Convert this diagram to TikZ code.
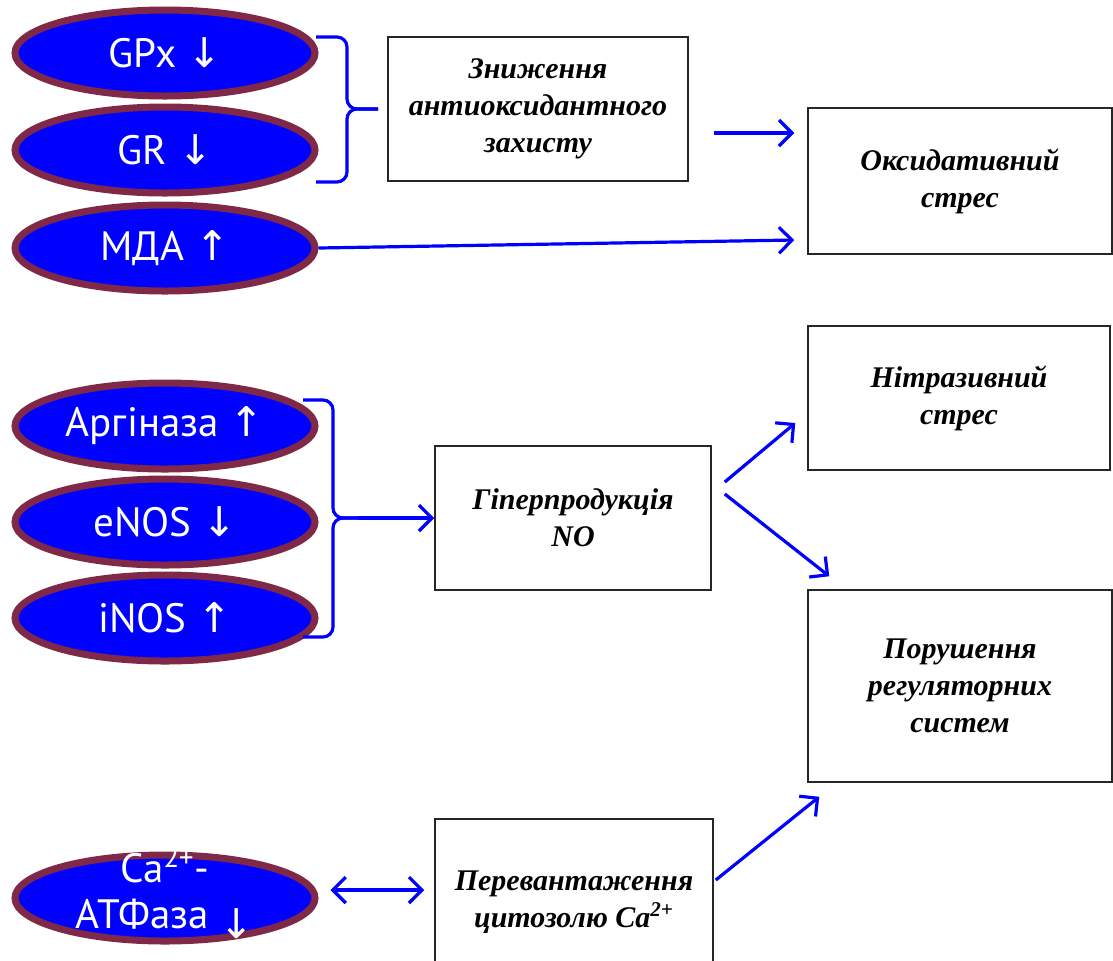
\documentclass[tikz,border=0pt]{standalone}
\usepackage{fontspec}
\setmainfont{Liberation Serif}
\setsansfont{PT Sans}
\newfontfamily\arrowfont{DejaVu Sans}
\usetikzlibrary{shapes.geometric}
\usetikzlibrary{arrows.meta}
\definecolor{ovalrim}{RGB}{128,40,72}
\newcommand{\arrdn}{{\arrowfont ↓}}
\newcommand{\arrup}{{\arrowfont ↑}}

\begin{document}
\begin{tikzpicture}[x=0.5pt,y=-0.5pt,
		oval/.style={ellipse,draw=ovalrim,fill=blue,line width=3.5pt,minimum width=150pt,minimum height=43pt,inner sep=0pt,text=white,font=\sffamily\fontsize{20.5}{23}\selectfont},
		textbox/.style={draw=black!85,line width=0.75pt,align=center,inner sep=0pt,font=\bfseries\itshape\fontsize{15}{18.5}\selectfont},
		barb/.tip={Straight Barb[length=6.5pt,width=13pt]},
		arr/.style={blue,line width=1.6pt,-barb},
		brc/.style={blue,line width=1.6pt,rounded corners=5pt}]
			\useasboundingbox (0,0) rectangle (1113,960);
			\clip (0,0) rectangle (1113,960);

			% left ovals
			\foreach \nm/\yy/\txt in {gpx/53/GPx \arrdn, gr/150/GR \arrdn, mda/248/МДА \arrup, arg/426/Аргіназа \arrup, enos/522/eNOS \arrdn, inos/618/iNOS \arrup}
			{
				\node[oval] (\nm) at (165,\yy) {\txt};
			}
			\node[oval] (atp) at (165,898) {};
			\node[text=white,align=center,font=\sffamily\fontsize{20.5}{23}\selectfont] (atptxt) at (165,893) {Ca\textsuperscript{2+}-\\АТФаза \raisebox{-5pt}{\arrdn}};

			% boxes
			\node[textbox,minimum width=150pt,minimum height=72pt] (antiox) at (538,109) {Зниження\\антиоксидантного\\захисту};
			\node[textbox,minimum width=152pt,minimum height=73pt] (oxid) at (960,181) {Оксидативний\\стрес};
			\node[textbox,minimum width=151pt,minimum height=72pt] (nitro) at (959,398) {Нітразивний\\стрес};
			\node[textbox,minimum width=138pt,minimum height=72pt] (hyper) at (573,518) {Гіперпродукція\\NO};
			\node[textbox,minimum width=152pt,minimum height=96pt] (regul) at (960,686) {Порушення\\регуляторних\\систем};
			\node[textbox,minimum width=139pt,minimum height=83pt] (calc) at (574,902) {Перевантаження\\цитозолю Ca\textsuperscript{2+}};

			% braces
			\coordinate (tipA) at (378,109);
			\coordinate (tipB) at (358,518);
			\draw[brc] (316,37) -- (347,37) -- (347,109) -- (tipA);
			\draw[brc] (316,182) -- (347,182) -- (347,109) -- (tipA);
			\draw[brc] (303,400) -- (333,400) -- (333,518) -- (tipB);
			\draw[brc] (303,637) -- (333,637) -- (333,518) -- (tipB);

			% arrows
			\draw[arr] ([shift={(25,24)}]antiox.east) -- ([shift={(-13,-48)}]oxid.west);
			\draw[arr] (mda.east) -- ([shift={(-13,59)}]oxid.west);
			\draw[arr] (tipB) -- (hyper.west);
			\draw[arr] ([shift={(13,-36)}]hyper.east) -- ([shift={(-12,25)}]nitro.west);
			\draw[arr] ([shift={(13,-24)}]hyper.east) -- ([shift={(22,-13)}]regul.north west);
			\draw[arr] ([shift={(2,-22)}]calc.east) -- ([shift={(12,14)}]regul.south west);
			\draw[arr,barb-barb] ([shift={(12,-8)}]atp.east) -- ([shift={(-10,-12)}]calc.west);
		\end{tikzpicture}
\end{document}
